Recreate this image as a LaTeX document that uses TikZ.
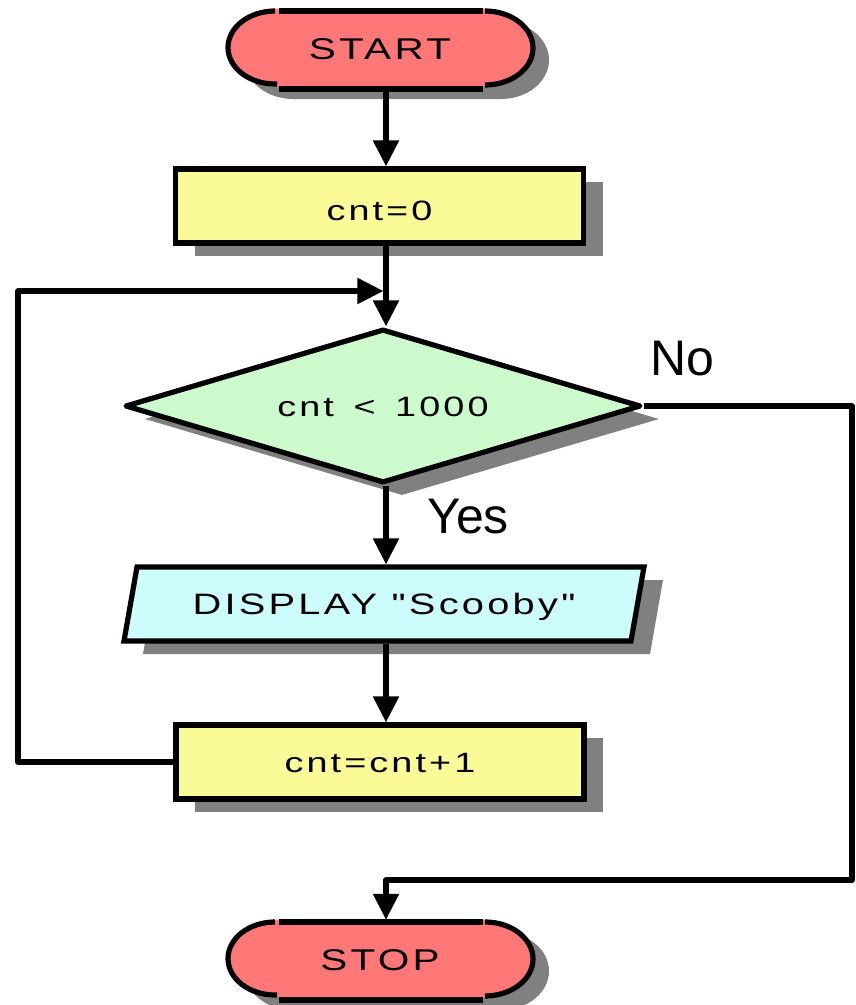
\documentclass[tikz,border=0pt]{standalone}
\usepackage{fontspec}
\setmainfont{Liberation Sans}
\newfontfamily\boxfont[FakeStretch=1.35,LetterSpace=11]{Liberation Sans}
\newfontfamily\tagfont{Liberation Sans}
\usetikzlibrary{shapes.geometric,shadows,arrows.meta,calc,backgrounds}

\definecolor{termred}{RGB}{255,119,119}
\definecolor{procyellow}{RGB}{250,250,150}
\definecolor{decgreen}{RGB}{204,250,204}
\definecolor{iocyan}{RGB}{204,252,252}
\definecolor{shadowgray}{RGB}{128,128,128}

\tikzset{
  outline/.style={line width=5.2pt},
  boxshadow/.style={drop shadow={shadow xshift=19pt,shadow yshift=-13pt,fill=shadowgray,opacity=1}},
  boxtext/.style={font=\boxfont\fontsize{28}{30}\selectfont, text height=20pt, text depth=0pt, inner sep=0pt},
  procbox/.style={rectangle, draw, outline, fill=procyellow, boxshadow, boxtext,
    minimum width=408pt, minimum height=74pt},
  decision/.style={diamond, draw, outline, line join=round, fill=decgreen, boxshadow, boxtext,
    aspect=3.35, minimum width=516pt, minimum height=154pt},
  iotext/.style={rectangle, boxtext, outer sep=2.6pt,
    font=\boxfont\fontsize{29.5}{31}\selectfont, minimum width=520pt, minimum height=74pt},
  iopath/.style={draw, outline, fill=iocyan, boxshadow},
  termtext/.style={rectangle, inner sep=0pt, minimum width=304pt, minimum height=80pt,
    font=\boxfont\fontsize{30}{32}\selectfont, text height=21.5pt, text depth=0pt},
  termpath/.style={insert path={(-104,39) -- (104,39)
    arc[start angle=90,end angle=-90,x radius=48,y radius=39]
    -- (-104,-39) arc[start angle=270,end angle=90,x radius=48,y radius=39] -- cycle}},
  flow/.style={line width=5.2pt, line join=round, -{Triangle[length=26pt,width=25pt]}},
  tag/.style={font=\tagfont\fontsize{50}{52}\selectfont, inner sep=0pt, anchor=base west},
}

% terminal symbol: name, centre, label
\newcommand\terminal[3]{%
  \begin{scope}[shift={#2}]
    \fill[shadowgray, shift={(17,-11)}, termpath];
    \fill[termred, shift={(0,1.5)}, termpath];
    \draw[outline] (-101,38) -- (103,38);
    \draw[outline] (-101,-40) -- (103,-40);
    \draw[outline] (-105,38) arc[start angle=90,end angle=270,x radius=47,y radius=36.5] -- ++(2,0);
    \draw[outline] (105,38) arc[start angle=90,end angle=-90,x radius=48,y radius=37];
  \end{scope}
  \node[termtext] (#1) at #2 {#3};
}

\begin{document}
\begin{tikzpicture}[x=1pt,y=1pt]
  \useasboundingbox (0,0) rectangle (855,-1005);

  % main vertical flow line and the corners of the two side loops
  \coordinate (spine) at (386,0);
  \coordinate (loopcorner) at (18,-291);
  \coordinate (merge) at (386,-291);
  \coordinate (nocorner) at (852,-880);

  \terminal{start}{(380,-49)}{START}
  \node[procbox, text height=28pt] (init) at (379.5,-206) {cnt=0};
  \node[decision] (test) at (383,-406) {cnt \hspace{6pt}< \hspace{6pt}1000};
  \node[iotext] (show) at (384,-604) {DISPLAY "Scooby"};
  \node[procbox] (step1) at (380,-762) {cnt=cnt+1};
  \terminal{stop}{(380,-960)}{STOP}

  % slanted input/output symbol behind its label
  \begin{scope}[on background layer]
    \path[iopath] ([shift={(2.6,2.6)}]show.south west)
      -- ([shift={(-15.6,2.6)}]show.south east)
      -- ([shift={(-2.6,-2.6)}]show.north east)
      -- ([shift={(15.6,-2.6)}]show.north west) -- cycle;
  \end{scope}

  \node[tag] (nolab) at (650,-375) {No};
  \node[tag] (yeslab) at (427,-533) {Yes};

  % connectors
  \draw[flow] (start.south -| spine) -- (init.north -| spine);
  \draw[flow] (init.south -| spine) -- (test.north -| spine);
  \draw[flow] (test.south -| spine) -- (show.north -| spine);
  \draw[flow] (show.south -| spine) -- (step1.north -| spine);
  \draw[flow, shorten >=2.6pt] (step1.west) -| (loopcorner) -- (merge);
  \draw[flow] (test.east) -| (nocorner) -| (stop.north -| spine);
\end{tikzpicture}
\end{document}
